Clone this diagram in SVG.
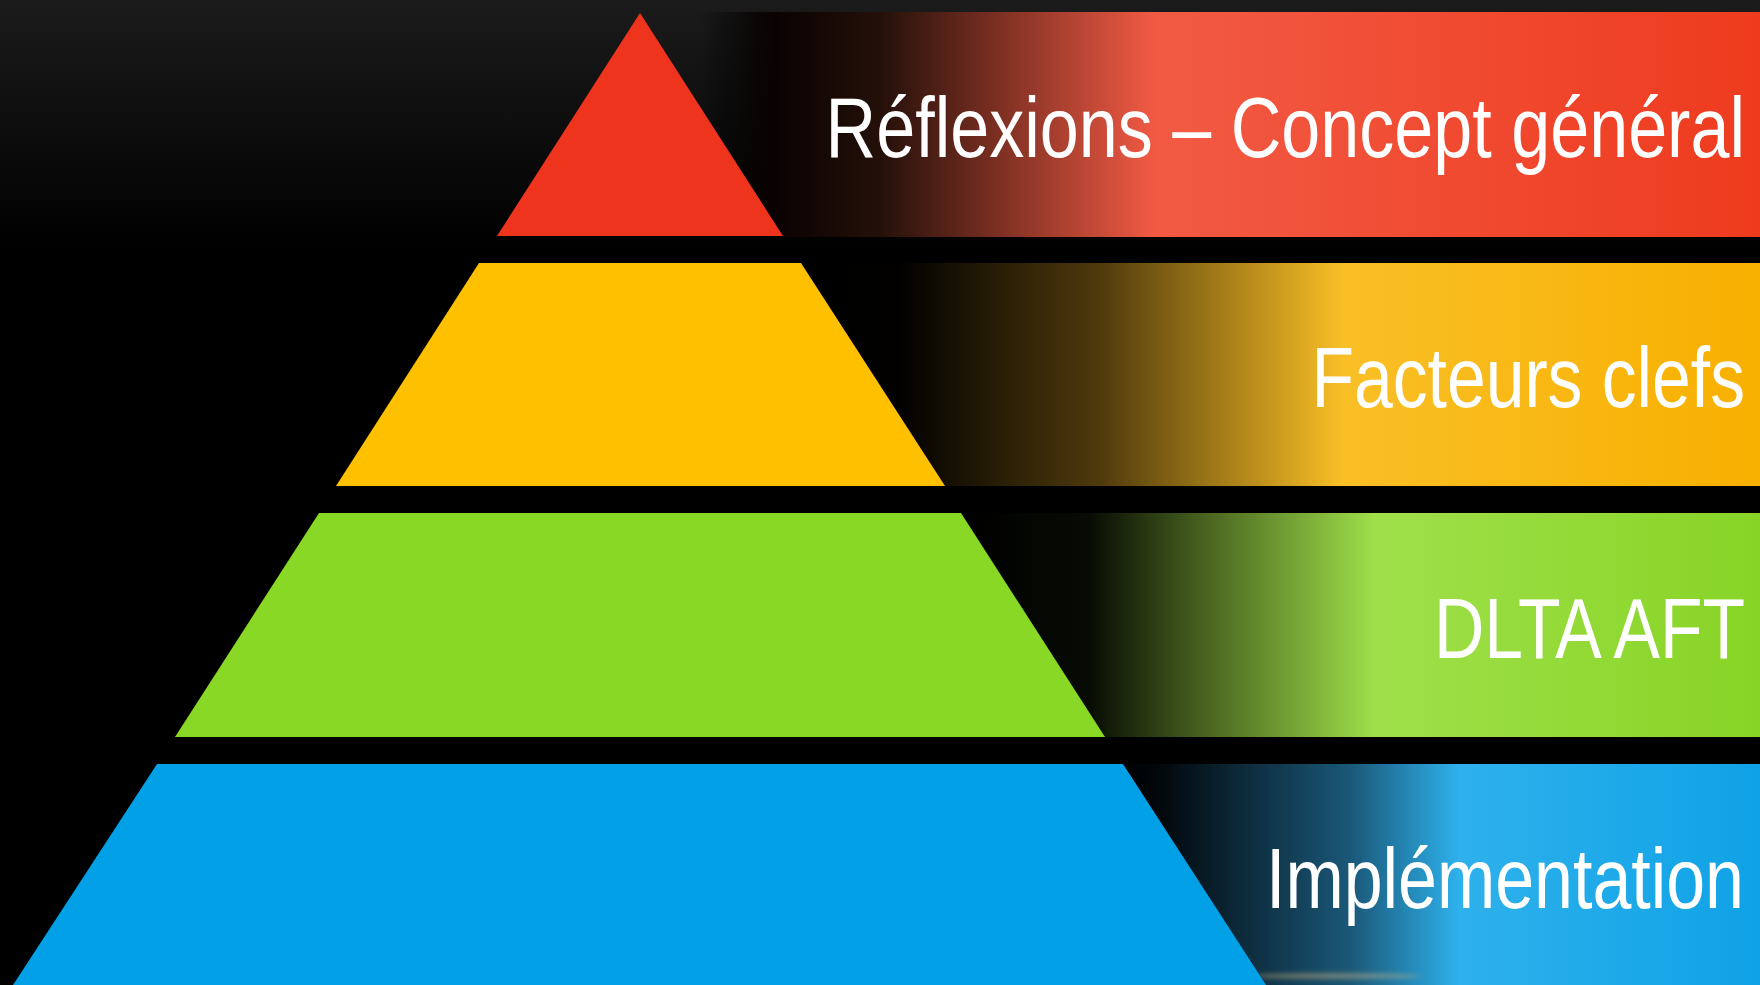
<svg xmlns="http://www.w3.org/2000/svg" width="1760" height="985" viewBox="0 0 1760 985">
  <style>
    .label { font-family: "Liberation Sans", Arial, sans-serif; font-size: 86px; fill: #ffffff; text-anchor: end; }
  </style>
  <defs>
    <linearGradient id="bg" x1="0" y1="0" x2="0" y2="250" gradientUnits="userSpaceOnUse">
      <stop offset="0" stop-color="#1b1b1b"/>
      <stop offset="1" stop-color="#000000"/>
    </linearGradient>
    <linearGradient id="bandRed" x1="700" y1="0" x2="1760" y2="0" gradientUnits="userSpaceOnUse">
      <stop offset="0" stop-color="#000000" stop-opacity="0"/>
      <stop offset="0.07" stop-color="#0a0202"/>
      <stop offset="0.17" stop-color="#241009"/>
      <stop offset="0.43" stop-color="#f25a44"/>
      <stop offset="1" stop-color="#ee3b1e"/>
    </linearGradient>
    <linearGradient id="bandYellow" x1="800" y1="0" x2="1760" y2="0" gradientUnits="userSpaceOnUse">
      <stop offset="0" stop-color="#000000"/>
      <stop offset="0.104" stop-color="#020100"/>
      <stop offset="0.3125" stop-color="#4f3a0c"/>
      <stop offset="0.5656" stop-color="#f9bf26"/>
      <stop offset="1" stop-color="#f8b000"/>
    </linearGradient>
    <linearGradient id="bandGreen" x1="960" y1="0" x2="1760" y2="0" gradientUnits="userSpaceOnUse">
      <stop offset="0" stop-color="#000000"/>
      <stop offset="0.16" stop-color="#070b03"/>
      <stop offset="0.3" stop-color="#46601f"/>
      <stop offset="0.52" stop-color="#9fe04a"/>
      <stop offset="1" stop-color="#88d426"/>
    </linearGradient>
    <linearGradient id="bandBlue" x1="1120" y1="0" x2="1760" y2="0" gradientUnits="userSpaceOnUse">
      <stop offset="0" stop-color="#000000"/>
      <stop offset="0.06" stop-color="#02070a"/>
      <stop offset="0.36" stop-color="#1a5878"/>
      <stop offset="0.53" stop-color="#2eb1ec"/>
      <stop offset="1" stop-color="#0fa2e6"/>
    </linearGradient>
    <filter id="soft" x="-20%" y="-300%" width="140%" height="700%">
      <feGaussianBlur stdDeviation="2.5"/>
    </filter>
  </defs>

  <!-- backdrop -->
  <rect x="0" y="0" width="1760" height="985" fill="url(#bg)"/>

  <!-- tier 1: apex -->
  <g id="tier-reflexions">
    <rect x="700" y="12" width="1060" height="225" fill="url(#bandRed)"/>
    <polygon points="640,13 783,236 497,236" fill="#ee341c"/>
    <text class="label" transform="translate(1745,157) scale(0.815,1)">Réflexions – Concept général</text>
  </g>

  <!-- tier 2 -->
  <g id="tier-facteurs">
    <rect x="800" y="263" width="960" height="223" fill="url(#bandYellow)"/>
    <polygon points="479,263 801,263 945,486 336,486" fill="#ffc000"/>
    <text class="label" transform="translate(1745,407) scale(0.81,1)">Facteurs clefs</text>
  </g>

  <!-- tier 3 -->
  <g id="tier-dlta">
    <rect x="960" y="513" width="800" height="224" fill="url(#bandGreen)"/>
    <polygon points="319,513 961,513 1105,737 175,737" fill="#8ad826"/>
    <text class="label" transform="translate(1745,658) scale(0.81,1)">DLTA AFT</text>
  </g>

  <!-- tier 4: base -->
  <g id="tier-implementation">
    <rect x="1120" y="764" width="640" height="221" fill="url(#bandBlue)"/>
    <ellipse cx="1335" cy="976" rx="85" ry="2.5" fill="#d6b582" opacity="0.55" filter="url(#soft)"/>
    <polygon points="157,764 1123,764 1266,985 13,985" fill="#02a0e6"/>
    <text class="label" transform="translate(1744,908) scale(0.813,1)">Implémentation</text>
  </g>

  <!-- no connectors in this figure -->
  <g id="connectors"/>
</svg>
